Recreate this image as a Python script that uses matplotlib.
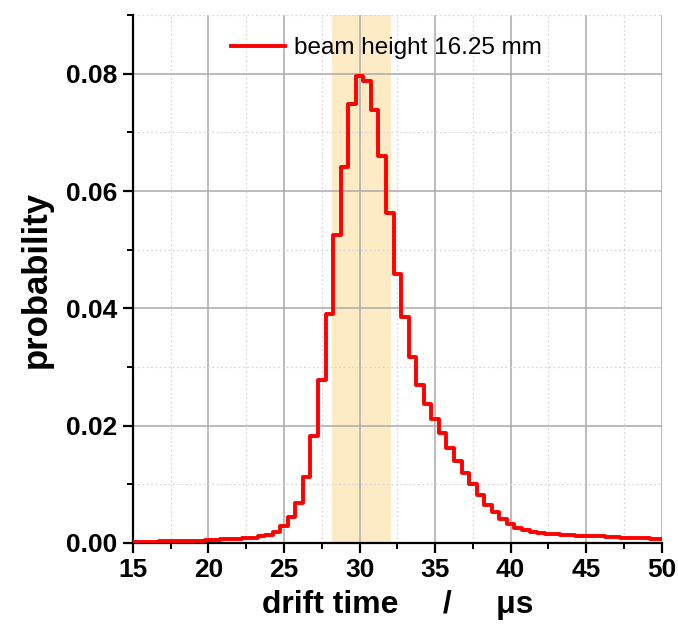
import matplotlib
matplotlib.use("Agg")
import matplotlib.pyplot as plt
import numpy as np
from matplotlib.ticker import MultipleLocator

plt.rcParams['font.family'] = ['Liberation Sans', 'DejaVu Sans']

# bin centres (µs) and probabilities
drift_time = [15.0 + 0.5 * i for i in range(71)]
probability = [
    0.0002, 0.0002, 0.0002, 0.0002, 0.0003, 0.0003, 0.0003, 0.0003, 0.0004, 0.0004,
    0.0005, 0.0005, 0.0006, 0.0006, 0.0007, 0.0008, 0.0009, 0.0011, 0.0014, 0.0018,
    0.0029, 0.0045, 0.0068, 0.0113, 0.0183, 0.0277, 0.0390, 0.0525, 0.0641, 0.0748,
    0.0797, 0.0787, 0.0738, 0.0659, 0.0562, 0.0458, 0.0386, 0.0317, 0.0269, 0.0237,
    0.0211, 0.0187, 0.0162, 0.0140, 0.0119, 0.0101, 0.0082, 0.0065, 0.0052, 0.0040,
    0.0032, 0.0026, 0.0022, 0.0019, 0.0017, 0.0016, 0.0015, 0.0014, 0.0013, 0.0012,
    0.0012, 0.0011, 0.0011, 0.0010, 0.0010, 0.0009, 0.0009, 0.0008, 0.0008, 0.0007,
    0.0006,
]
band_range = [28.2, 32.1]
series_label = "beam height 16.25 mm"
x_ticks = [15, 20, 25, 30, 35, 40, 45, 50]
y_ticks = [0.00, 0.02, 0.04, 0.06, 0.08]

fig = plt.figure(figsize=(6.78, 6.32), dpi=100)
ax = fig.add_axes([0.196, 0.141, 0.780, 0.835])

ax.axvspan(band_range[0], band_range[1], color='#fcebc5', zorder=0, lw=0)
ax.step(drift_time, probability, where='mid', color='#ff0000', lw=2.8,
        label=series_label, zorder=3, clip_on=True)

ax.set_xlim(15, 50)
ax.set_ylim(0, 0.09)
ax.set_xticks(x_ticks)
ax.set_yticks(y_ticks)
ax.set_yticklabels([f"{v:.2f}" for v in y_ticks])
ax.xaxis.set_minor_locator(MultipleLocator(2.5))
ax.yaxis.set_minor_locator(MultipleLocator(0.01))

ax.grid(which='major', color='#aaaaaa', lw=1.1, zorder=1)
ax.grid(which='minor', color='#d8d8d8', lw=0.9, ls=(0, (1.5, 2)), zorder=1)
ax.set_axisbelow(True)

for s in ['top', 'right']:
    ax.spines[s].set_visible(False)
for s in ['left', 'bottom']:
    ax.spines[s].set_linewidth(1.6)
    ax.spines[s].set_color('black')

ax.tick_params(which='major', direction='out', length=7, width=1.6,
               labelsize=19, pad=4)
ax.tick_params(which='minor', direction='out', length=4, width=1.4)
for lbl in ax.get_xticklabels() + ax.get_yticklabels():
    lbl.set_fontweight('bold')

ax.set_xlabel("drift time     /     \u03bcs", fontsize=23, fontweight='bold', labelpad=6)
ax.set_ylabel("probability", fontsize=25, fontweight='bold', labelpad=10)

leg = ax.legend(loc='upper center', bbox_to_anchor=(0.48, 1.0), frameon=False,
                fontsize=17.5, handlelength=2.2, handletextpad=0.4)

fig.savefig("out.png", dpi=100)
